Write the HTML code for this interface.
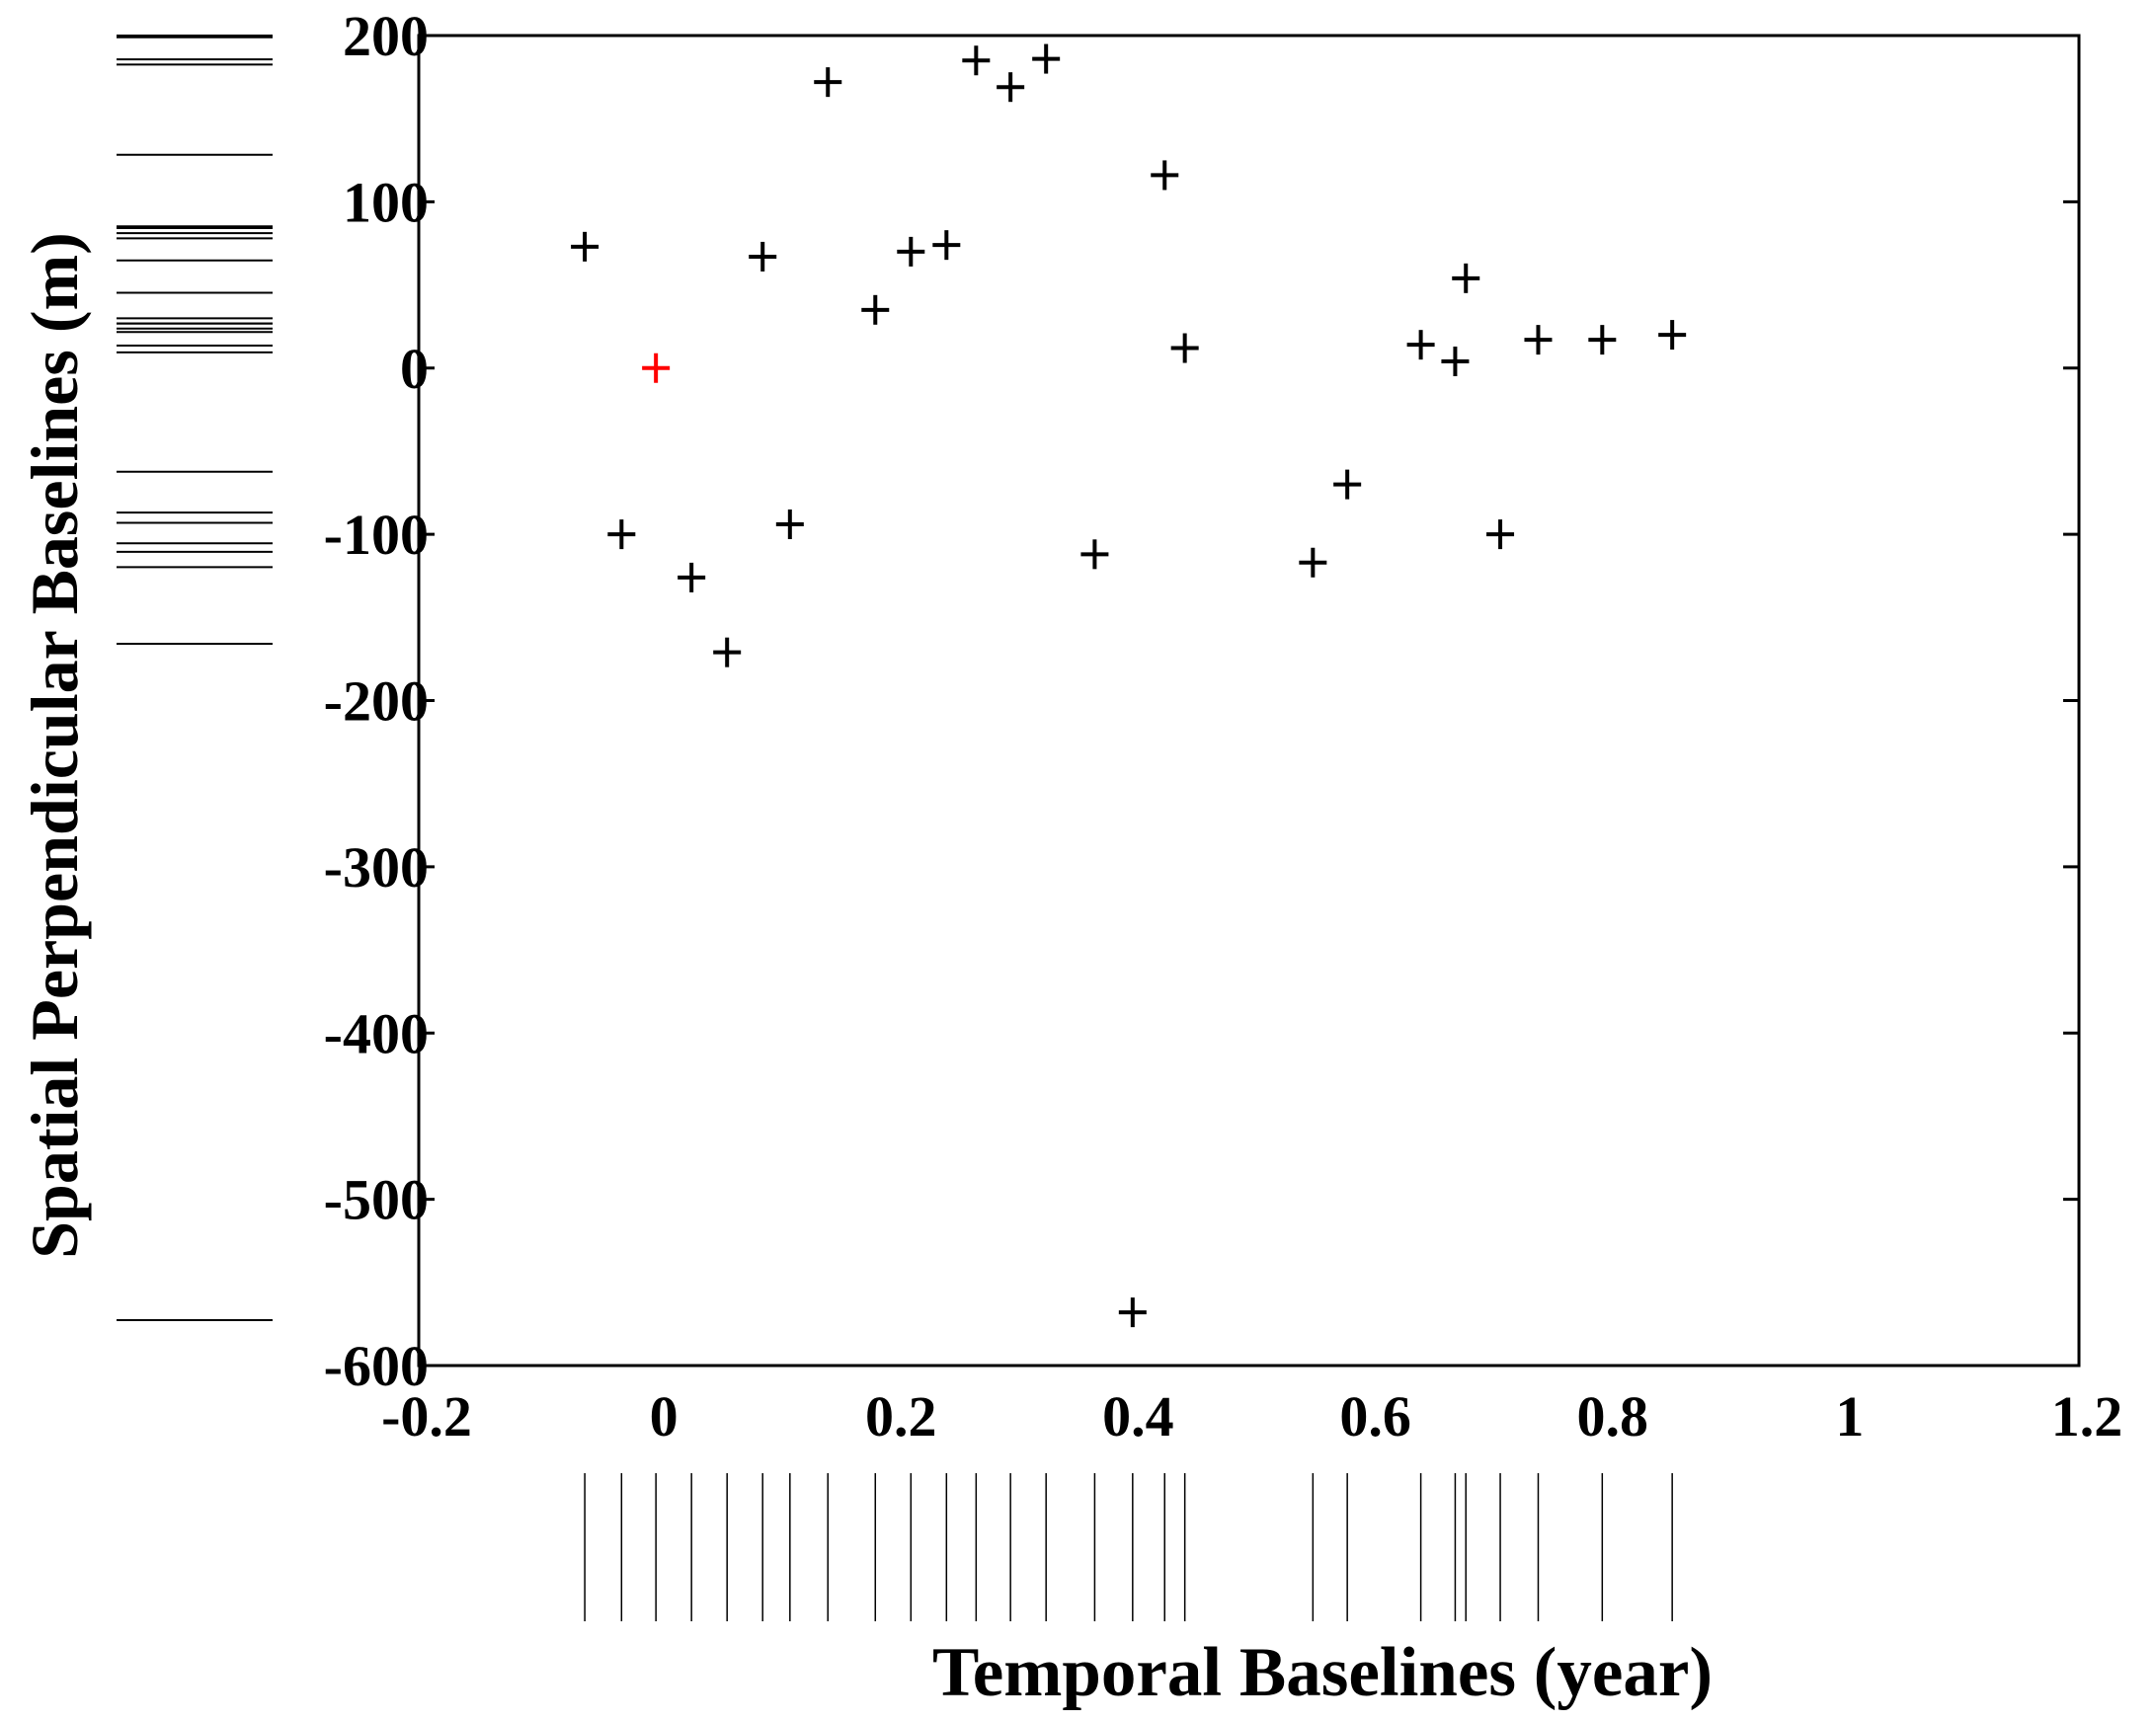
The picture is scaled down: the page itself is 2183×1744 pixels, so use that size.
<!DOCTYPE html>
<html><head><meta charset="utf-8"><style>
body{margin:0;background:#fff;}
svg{display:block;}
text{font-family:"Liberation Serif",serif;font-weight:bold;fill:#000;}
</style></head><body>
<svg id="chart" width="2183" height="1744" viewBox="0 0 2183 1744" xmlns="http://www.w3.org/2000/svg">
<rect x="424" y="36" width="1681" height="1347" fill="none" stroke="#000" stroke-width="3"/>
<g id="yticks"></g>
<g id="xticks"></g>
<g id="rugs"></g>
<g id="marks"></g>
<text x="0" y="0" font-size="68" text-anchor="middle" transform="translate(78,755) rotate(-90)">Spatial Perpendicular Baselines (m)</text>
<text x="1339" y="1717" font-size="71" text-anchor="middle">Temporal Baselines (year)</text>
</svg>
<script>
const temporal=[-0.06,-0.029,0.030,0.060,0.090,0.113,0.145,0.185,0.215,0.245,0.270,0.299,0.329,0.370,0.402,0.429,0.446,0.554,0.583,0.645,0.674,0.683,0.712,0.744,0.798,0.857];
const perpendicular=[73,-100,-126,-171,67,-94,172,35,70,74,185,169,186,-112,-568,116,12,-117,-70,14,4,54,-100,17,17,20];
const refT=[0];
const refB=[0];
const xTicks=[-0.2,0,0.2,0.4,0.6,0.8,1,1.2];
const xTickLabels=["-0.2","0","0.2","0.4","0.6","0.8","1","1.2"];
const yTicks=[200,100,0,-100,-200,-300,-400,-500,-600];
const yTickLabels=["200","100","0","-100","-200","-300","-400","-500","-600"];

const L=424,R=2105,T=36,B=1383;
const xs=v=>L+(v+0.2)/1.4*(R-L);
const ys=v=>T+(200-v)/800*(B-T);
const NS="http://www.w3.org/2000/svg";
function mk(tag,attrs,parent){const e=document.createElementNS(NS,tag);for(const k in attrs)e.setAttribute(k,attrs[k]);parent.appendChild(e);return e;}
const yg=document.getElementById('yticks'),xg=document.getElementById('xticks'),rg=document.getElementById('rugs'),mg=document.getElementById('marks');
yTicks.forEach((v,i)=>{
  const y=ys(v);
  let t=mk('line',{x1:L,x2:L+16,y1:y,y2:y,stroke:'#000','stroke-width':3},yg);
  
  
  t=mk('line',{x1:R-16,x2:R,y1:y,y2:y,stroke:'#000','stroke-width':3},yg);
  
  
  const tx=mk('text',{x:434,y:y+20,'font-size':58,'text-anchor':'end'},yg);
  tx.textContent=yTickLabels[i];
  
  
});
xTicks.forEach((v,i)=>{
  const tx=mk('text',{x:xs(v)+8,y:1454,'font-size':58,'text-anchor':'middle'},xg);
  tx.textContent=xTickLabels[i];
  
  
});
const allT=temporal.concat(refT),allB=perpendicular.concat(refB);
const bMax=Math.max(...allB),bMin=Math.min(...allB);
const rugY=v=>36+(bMax-v)/(bMax-bMin)*(1337-36);
allT.forEach(v=>{
  const l=mk('line',{x1:xs(v),x2:xs(v),y1:1492,y2:1642,stroke:'#000','stroke-width':1.5},rg);
  
  
});
allB.forEach(v=>{
  const l=mk('line',{x1:118,x2:276,y1:rugY(v),y2:rugY(v),stroke:'#000','stroke-width':2},rg);
  
  
});
function plus(x,y,c,name){
  const g=mk('g',{},mg);
  
  
  mk('line',{x1:x-14,x2:x+14,y1:y,y2:y,stroke:c,'stroke-width':4},g);
  mk('line',{x1:x,x2:x,y1:y-15,y2:y+15,stroke:c,'stroke-width':4},g);
}
temporal.forEach((v,i)=>plus(xs(v),ys(perpendicular[i]),'#000','interferogram-point'));
refT.forEach((v,i)=>plus(xs(v),ys(refB[i]),'#f00','reference-point'));
</script>
</body></html>
